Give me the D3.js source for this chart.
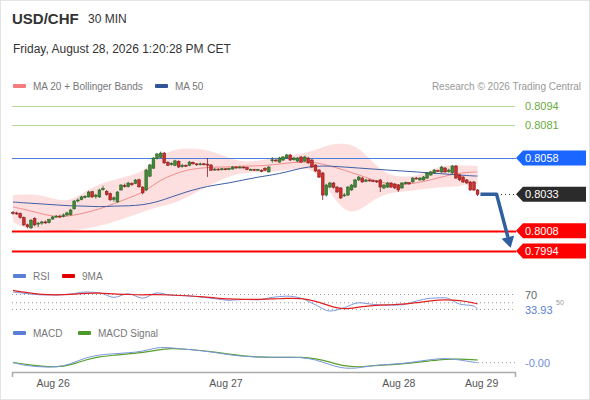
<!DOCTYPE html>
<html>
<head>
<meta charset="utf-8">
<title>USD/CHF 30 MIN</title>
<script src="https://d3js.org/d3.v7.min.js"></script>
<style>
  body { margin: 0; background: #fff; }
  svg { display: block; font-family: Arial, "Liberation Sans", sans-serif; }
</style>
</head>
<body>
<svg width="590" height="400"></svg>
<script>
// 30 min candles, Aug 25 evening -> Aug 28 midday
var open = [0.80206,0.80202,0.80198,0.80170,0.80120,0.80100,0.80165,0.80125,0.80132,0.80140,
  0.80135,0.80160,0.80174,0.80180,0.80178,0.80188,0.80190,0.80230,0.80284,0.80294,
  0.80310,0.80312,0.80348,0.80314,0.80312,0.80362,0.80350,0.80336,0.80295,0.80278,
  0.80360,0.80390,0.80382,0.80406,0.80406,0.80430,0.80380,0.80360,0.80455,0.80510,
  0.80575,0.80585,0.80614,0.80550,0.80535,0.80530,0.80558,0.80520,0.80530,0.80530,
  0.80550,0.80540,0.80534,0.80540,0.80538,0.80532,0.80498,0.80504,0.80500,0.80506,
  0.80502,0.80504,0.80518,0.80512,0.80518,0.80514,0.80500,0.80502,0.80498,0.80496,
  0.80510,0.80484,0.80564,0.80566,0.80552,0.80566,0.80580,0.80601,0.80568,0.80559,
  0.80587,0.80559,0.80580,0.80566,0.80532,0.80497,0.80477,0.80325,0.80380,0.80408,
  0.80380,0.80374,0.80320,0.80325,0.80360,0.80380,0.80429,0.80442,0.80420,0.80429,
  0.80424,0.80422,0.80429,0.80374,0.80380,0.80408,0.80401,0.80394,0.80374,0.80406,
  0.80410,0.80415,0.80442,0.80429,0.80429,0.80442,0.80463,0.80477,0.80494,0.80484,
  0.80511,0.80486,0.80477,0.80525,0.80463,0.80449,0.80429,0.80415,0.80415,0.80360];
var high = [0.80215,0.80210,0.80205,0.80178,0.80128,0.80160,0.80172,0.80140,0.80148,0.80150,
  0.80162,0.80182,0.80188,0.80190,0.80198,0.80210,0.80230,0.80290,0.80302,0.80320,
  0.80325,0.80355,0.80354,0.80334,0.80368,0.80388,0.80360,0.80342,0.80315,0.80352,
  0.80400,0.80404,0.80416,0.80412,0.80436,0.80438,0.80386,0.80505,0.80540,0.80586,
  0.80615,0.80624,0.80622,0.80558,0.80550,0.80568,0.80564,0.80540,0.80536,0.80560,
  0.80556,0.80544,0.80548,0.80546,0.80580,0.80538,0.80510,0.80510,0.80512,0.80510,
  0.80514,0.80524,0.80522,0.80526,0.80522,0.80520,0.80508,0.80506,0.80506,0.80502,
  0.80516,0.80524,0.80586,0.80574,0.80588,0.80594,0.80608,0.80608,0.80588,0.80586,
  0.80594,0.80596,0.80588,0.80574,0.80538,0.80504,0.80484,0.80402,0.80416,0.80414,
  0.80388,0.80380,0.80339,0.80388,0.80400,0.80436,0.80456,0.80450,0.80436,0.80434,
  0.80430,0.80428,0.80436,0.80400,0.80416,0.80414,0.80408,0.80400,0.80414,0.80418,
  0.80414,0.80448,0.80450,0.80448,0.80456,0.80484,0.80490,0.80504,0.80500,0.80526,
  0.80518,0.80506,0.80532,0.80532,0.80470,0.80456,0.80436,0.80422,0.80422,0.80366];
var low = [0.80190,0.80188,0.80162,0.80112,0.80095,0.80090,0.80110,0.80105,0.80120,0.80128,
  0.80130,0.80155,0.80168,0.80169,0.80172,0.80180,0.80182,0.80225,0.80275,0.80288,
  0.80302,0.80308,0.80305,0.80300,0.80305,0.80355,0.80320,0.80285,0.80280,0.80272,
  0.80356,0.80376,0.80378,0.80388,0.80400,0.80375,0.80330,0.80352,0.80448,0.80505,
  0.80570,0.80580,0.80540,0.80525,0.80528,0.80524,0.80512,0.80514,0.80518,0.80524,
  0.80534,0.80526,0.80530,0.80530,0.80450,0.80490,0.80492,0.80494,0.80494,0.80496,
  0.80496,0.80500,0.80506,0.80508,0.80508,0.80496,0.80494,0.80492,0.80492,0.80482,
  0.80490,0.80480,0.80548,0.80556,0.80548,0.80560,0.80574,0.80560,0.80562,0.80552,
  0.80548,0.80554,0.80540,0.80512,0.80484,0.80442,0.80291,0.80316,0.80374,0.80370,
  0.80340,0.80298,0.80312,0.80318,0.80354,0.80374,0.80422,0.80410,0.80414,0.80418,
  0.80414,0.80408,0.80346,0.80366,0.80374,0.80374,0.80366,0.80346,0.80368,0.80398,
  0.80396,0.80410,0.80434,0.80424,0.80424,0.80436,0.80458,0.80470,0.80484,0.80478,
  0.80478,0.80480,0.80470,0.80436,0.80422,0.80408,0.80402,0.80354,0.80352,0.80318];
var close = [0.80202,0.80196,0.80169,0.80120,0.80108,0.80152,0.80120,0.80132,0.80140,0.80138,
  0.80156,0.80174,0.80180,0.80176,0.80188,0.80202,0.80222,0.80284,0.80291,0.80312,
  0.80316,0.80346,0.80312,0.80325,0.80360,0.80370,0.80328,0.80292,0.80306,0.80346,
  0.80394,0.80386,0.80408,0.80396,0.80428,0.80382,0.80340,0.80497,0.80532,0.80580,
  0.80608,0.80614,0.80546,0.80530,0.80542,0.80560,0.80518,0.80530,0.80525,0.80552,
  0.80540,0.80534,0.80540,0.80536,0.80532,0.80496,0.80504,0.80500,0.80506,0.80502,
  0.80508,0.80518,0.80512,0.80518,0.80514,0.80500,0.80502,0.80498,0.80500,0.80488,
  0.80496,0.80518,0.80568,0.80564,0.80580,0.80587,0.80601,0.80566,0.80580,0.80580,
  0.80552,0.80587,0.80546,0.80518,0.80491,0.80449,0.80325,0.80394,0.80408,0.80378,
  0.80346,0.80305,0.80326,0.80380,0.80394,0.80429,0.80449,0.80415,0.80429,0.80424,
  0.80422,0.80415,0.80380,0.80394,0.80408,0.80380,0.80374,0.80360,0.80408,0.80410,
  0.80402,0.80442,0.80440,0.80442,0.80449,0.80477,0.80484,0.80497,0.80491,0.80518,
  0.80484,0.80497,0.80525,0.80442,0.80429,0.80415,0.80408,0.80360,0.80360,0.80330];

// indicators, read every 4th candle
var sampleIdx = [0,4,8,12,16,20,24,28,32,36,40,44,48,52,56,60,64,68,72,76,80,84,88,92,96,100,104,108,112,116,120,124,128,129];
var ma20 = [0.80243,0.80222,0.80195,0.80174,0.80181,0.80202,0.80229,0.80264,0.80305,0.80339,0.80415,0.80463,0.80497,0.80511,0.80518,0.80518,0.80525,
  0.80525,0.80532,0.80546,0.80552,0.80552,0.80525,0.80497,0.80463,0.80429,0.80401,0.80394,0.80408,0.80429,0.80456,0.80477,0.80484,0.80484];
var bbUpper = [0.80325,0.80332,0.80325,0.80291,0.80284,0.80350,0.80401,0.80429,0.80456,0.80484,0.80580,0.80635,0.80649,0.80642,0.80621,0.80580,0.80552,
  0.80559,0.80580,0.80594,0.80608,0.80635,0.80676,0.80683,0.80656,0.80546,0.80463,0.80449,0.80456,0.80497,0.80532,0.80532,0.80525,0.80525];
var bbLower = [0.80140,0.80084,0.80091,0.80071,0.80078,0.80091,0.80112,0.80140,0.80174,0.80208,0.80243,0.80264,0.80305,0.80360,0.80408,0.80456,0.80477,
  0.80484,0.80484,0.80497,0.80511,0.80497,0.80346,0.80208,0.80208,0.80291,0.80339,0.80346,0.80360,0.80374,0.80380,0.80387,0.80401,0.80401];
var ma50 = [0.80277,0.80270,0.80264,0.80257,0.80250,0.80250,0.80243,0.80250,0.80250,0.80257,0.80277,0.80312,0.80346,0.80374,0.80394,0.80408,0.80429,
  0.80449,0.80463,0.80484,0.80511,0.80525,0.80525,0.80518,0.80511,0.80504,0.80497,0.80491,0.80484,0.80477,0.80470,0.80463,0.80456,0.80456];
var rsi = [76,72,69,69,71,76,74,63,72,61,74,68,67,64,60,56,58,57,63,66,61,45,30,38,50,46,44,45,54,61,62,47,42,33.93];
var rsiMa = [80,74,70,69,70,73,74,71,70,69,70,69,67,65,62,59,58,58,59,61,61,54,42,33,40,43,45,46,50,55,58,56,50,47];
var macd = [0.00000,-0.00018,-0.00024,-0.00026,-0.00008,0.00028,0.00045,0.00050,0.00056,0.00062,0.00088,0.00084,0.00075,0.00068,0.00058,0.00044,0.00036,
  0.00031,0.00030,0.00031,0.00030,0.00018,-0.00012,-0.00034,-0.00030,-0.00015,-0.00010,-0.00005,0.00006,0.00018,0.00026,0.00016,0.00002,0.00000];
var macdSignal = [0.00002,-0.00012,-0.00020,-0.00025,-0.00014,0.00016,0.00034,0.00042,0.00050,0.00056,0.00072,0.00081,0.00076,0.00069,0.00060,0.00047,0.00038,
  0.00032,0.00030,0.00030,0.00031,0.00024,0.00004,-0.00020,-0.00025,-0.00016,-0.00012,-0.00008,0.00002,0.00011,0.00020,0.00021,0.00017,0.00015];

// key levels
var levels = [0.8094, 0.8081, 0.8058, 0.8033, 0.8008, 0.7994];
var levelKind = ["res", "res", "pivot", "last", "sup", "sup"];
var target = 0.79962;

var dayLabels = ["Aug 26", "Aug 27", "Aug 28", "Aug 29"];
var dayIdx = [11, 59, 107, 130];

var rsiLevels = [70, 50];
var rsiLevelLabels = ["70", "50"];
var rsiLast = 33.93;
var macdLast = "-0.00";

var svg = d3.select("svg");

svg.append("rect").attr("x", 0.5).attr("y", 0.5).attr("width", 589).attr("height", 399)
  .attr("fill", "#fff").attr("stroke", "#e4e4e4");

// scales
var x = d3.scaleLinear().domain([-0.28, 139.4]).range([12, 515]);
var y = d3.scaleLinear().domain([0.7994, 0.8094]).range([251, 105.7]);
var yRsi = d3.scaleLinear().domain([30, 70]).range([311, 294.5]);
var yMacd = d3.scaleLinear().domain([-0.0005, 0.001]).range([371.6, 344.9]);

// header
svg.append("text").attr("x", 12).attr("y", 24).attr("font-size", 15).attr("font-weight", "bold")
  .attr("fill", "#333").text("USD/CHF");
svg.append("text").attr("x", 88).attr("y", 23).attr("font-size", 12).attr("fill", "#333").text("30 MIN");
svg.append("text").attr("x", 13).attr("y", 53).attr("font-size", 12).attr("fill", "#333")
  .text("Friday, August 28, 2026 1:20:28 PM CET");

function legend(items, yy) {
  items.forEach(function(it) {
    svg.append("rect").attr("x", it.x).attr("y", yy - 3).attr("width", 13).attr("height", 4)
      .attr("rx", 1).attr("fill", it.color);
    svg.append("text").attr("x", it.x + 20).attr("y", yy + 2.5).attr("font-size", 10)
      .attr("fill", "#777").text(it.label);
  });
}
legend([{x: 13, color: "#f47c7c", label: "MA 20 + Bollinger Bands"},
        {x: 155, color: "#2f5597", label: "MA 50"}], 87);
svg.append("text").attr("x", 581).attr("y", 90).attr("text-anchor", "end").attr("font-size", 10)
  .attr("fill", "#999").text("Research \u00a9 2026 Trading Central");

// bollinger band + moving averages
var pts = sampleIdx.map(function(d, i) { return {i: d, up: bbUpper[i], lo: bbLower[i], m20: ma20[i], m50: ma50[i]}; });
svg.append("path").datum(pts)
  .attr("d", d3.area().curve(d3.curveBasis).x(function(d) { return x(d.i); })
    .y0(function(d) { return y(d.lo); }).y1(function(d) { return y(d.up); }))
  .attr("fill", "#fdd9d9").attr("opacity", 0.85);

// level lines
var lineEnd = 516;
levels.forEach(function(v, k) {
  var kind = levelKind[k], yy = Math.round(y(v)) + 0.5;
  if (kind === "res") {
    svg.append("line").attr("x1", 12).attr("x2", 515).attr("y1", yy).attr("y2", yy)
      .attr("stroke", "#b6d89c").attr("stroke-width", 1);
  } else if (kind === "pivot") {
    svg.append("line").attr("x1", 12).attr("x2", lineEnd).attr("y1", yy).attr("y2", yy)
      .attr("stroke", "#4a7fe0").attr("stroke-width", 1.2);
  } else if (kind === "sup") {
    svg.append("line").attr("x1", 12).attr("x2", lineEnd).attr("y1", yy).attr("y2", yy)
      .attr("stroke", "#f00").attr("stroke-width", 2);
  } else {
    svg.append("line").attr("x1", 497).attr("x2", lineEnd).attr("y1", yy).attr("y2", yy)
      .attr("stroke", "#333").attr("stroke-dasharray", "1,3");
  }
});

svg.append("path").datum(pts)
  .attr("d", d3.line().curve(d3.curveBasis).x(function(d) { return x(d.i); }).y(function(d) { return y(d.m20); }))
  .attr("fill", "none").attr("stroke", "#f28c8c").attr("stroke-width", 1);
svg.append("path").datum(pts)
  .attr("d", d3.line().curve(d3.curveBasis).x(function(d) { return x(d.i); }).y(function(d) { return y(d.m50); }))
  .attr("fill", "none").attr("stroke", "#3d5fa6").attr("stroke-width", 1);

// candles
var candles = close.map(function(c, i) { return {i: i, o: open[i], h: high[i], l: low[i], c: c}; });
var cg = svg.append("g");
cg.selectAll("line").data(candles).join("line")
  .attr("x1", function(d) { return x(d.i); }).attr("x2", function(d) { return x(d.i); })
  .attr("y1", function(d) { return y(d.h); }).attr("y2", function(d) { return y(d.l); })
  .attr("stroke", function(d) { return d.c >= d.o ? "#24551f" : "#7a1a1a"; }).attr("stroke-width", 0.8);
cg.selectAll("rect").data(candles).join("rect")
  .attr("x", function(d) { return x(d.i) - 1.4; }).attr("width", 2.8)
  .attr("y", function(d) { return y(Math.max(d.o, d.c)); })
  .attr("height", function(d) { return Math.max(1, Math.abs(y(d.o) - y(d.c))); })
  .attr("fill", function(d) { return d.c >= d.o ? "#3f8a36" : "#d22b2b"; })
  .attr("stroke", function(d) { return d.c >= d.o ? "#24551f" : "#7a1a1a"; }).attr("stroke-width", 0.5);

// forecast arrow
var last = close[close.length - 1];
var a0 = [x(close.length - 0.2), y(last)], a1 = [x(134.3), y(last)], tip = [x(138.2), y(target)];
var dx = tip[0] - a1[0], dy = tip[1] - a1[1], len = Math.sqrt(dx * dx + dy * dy);
var ux = dx / len, uy = dy / len, hl = 11, hw = 6.5;
var base = [tip[0] - ux * hl, tip[1] - uy * hl];
svg.append("path").attr("d", d3.line()([a0, a1, base]))
  .attr("fill", "none").attr("stroke", "#2f5f9e").attr("stroke-width", 3.5).attr("stroke-linejoin", "round");
svg.append("path").attr("d", d3.line()([tip, [base[0] + uy * hw, base[1] - ux * hw], [base[0] - uy * hw, base[1] + ux * hw]]) + "Z")
  .attr("fill", "#2f5f9e");

// level labels
var tagColor = {pivot: "#1a66ff", last: "#2b2b2b", sup: "#ff0000"};
levels.forEach(function(v, k) {
  var kind = levelKind[k], yy = y(v);
  if (kind === "res") {
    svg.append("text").attr("x", 525).attr("y", yy + 4).attr("font-size", 11)
      .attr("fill", "#6aab3e").text(v.toFixed(4));
    return;
  }
  svg.append("path")
    .attr("d", d3.line()([[516, yy], [523, yy - 7.5], [586, yy - 7.5], [586, yy + 7.5], [523, yy + 7.5]]) + "Z")
    .attr("fill", tagColor[kind]);
  svg.append("text").attr("x", 525).attr("y", yy + 4).attr("font-size", 11)
    .attr("fill", "#fff").text(v.toFixed(4));
});

// RSI panel
legend([{x: 13, color: "#5b7fd6", label: "RSI"}, {x: 62, color: "#e00000", label: "9MA"}], 277);
rsiLevels.concat([rsiLast]).forEach(function(v) {
  svg.append("line").attr("x1", 12).attr("x2", 516).attr("y1", yRsi(v)).attr("y2", yRsi(v))
    .attr("stroke", "#999").attr("stroke-dasharray", "1,3");
});
svg.append("text").attr("x", 525).attr("y", yRsi(70) + 4).attr("font-size", 11)
  .attr("fill", "#666").text(rsiLevelLabels[0]);
// the 50 label sits beside the last-value label so the two do not collide
svg.append("text").attr("x", 556).attr("y", yRsi(50) + 2.5).attr("font-size", 7)
  .attr("fill", "#999").text(rsiLevelLabels[1]);
var rsiPts = sampleIdx.map(function(d, i) { return {i: d, r: rsi[i], m: rsiMa[i]}; });
svg.append("path").datum(rsiPts)
  .attr("d", d3.line().curve(d3.curveMonotoneX).x(function(d) { return x(d.i); }).y(function(d) { return yRsi(d.r); }))
  .attr("fill", "none").attr("stroke", "#7b97dd").attr("stroke-width", 1);
svg.append("path").datum(rsiPts)
  .attr("d", d3.line().curve(d3.curveBasis).x(function(d) { return x(d.i); }).y(function(d) { return yRsi(d.m); }))
  .attr("fill", "none").attr("stroke", "#e02020").attr("stroke-width", 1.2);
svg.append("text").attr("x", 525).attr("y", yRsi(rsiLast) + 4.5).attr("font-size", 11)
  .attr("fill", "#5b7fd6").text(rsiLast.toFixed(2));

// MACD panel
legend([{x: 13, color: "#5b7fd6", label: "MACD"}, {x: 78, color: "#4c9a2a", label: "MACD Signal"}], 334);
svg.append("line").attr("x1", 478).attr("x2", 516).attr("y1", yMacd(0)).attr("y2", yMacd(0))
  .attr("stroke", "#999").attr("stroke-dasharray", "1,3");
var macdPts = sampleIdx.map(function(d, i) { return {i: d, m: macd[i], s: macdSignal[i]}; });
svg.append("path").datum(macdPts)
  .attr("d", d3.line().curve(d3.curveBasis).x(function(d) { return x(d.i); }).y(function(d) { return yMacd(d.s); }))
  .attr("fill", "none").attr("stroke", "#5aa02c").attr("stroke-width", 1.2);
svg.append("path").datum(macdPts)
  .attr("d", d3.line().curve(d3.curveBasis).x(function(d) { return x(d.i); }).y(function(d) { return yMacd(d.m); }))
  .attr("fill", "none").attr("stroke", "#7b97dd").attr("stroke-width", 1);
svg.append("text").attr("x", 525).attr("y", yMacd(0) + 4).attr("font-size", 11)
  .attr("fill", "#6d8fd8").text(macdLast);

// time axis
var xAxis = d3.axisBottom(x).tickValues(dayIdx)
  .tickFormat(function(d, i) { return dayLabels[i]; })
  .tickSizeInner(0).tickSizeOuter(5).tickPadding(8);
var ax = svg.append("g").attr("transform", "translate(0,372)").call(xAxis);
ax.select(".domain").attr("stroke", "#aaa").attr("stroke-width", 1.5);
ax.selectAll("text").attr("font-size", 10.5).attr("fill", "#555").attr("font-family", "Arial, sans-serif");
</script>
</body>
</html>
